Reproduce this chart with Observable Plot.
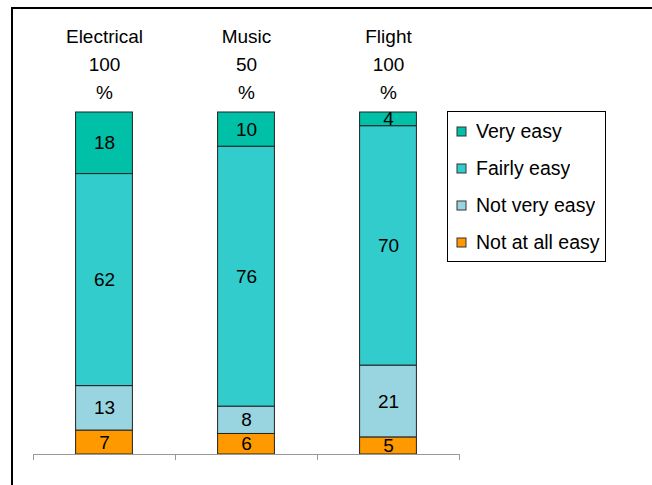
<!DOCTYPE html>
<html>
<head>
<meta charset="utf-8">
<script src="https://cdn.jsdelivr.net/npm/d3@7"></script>
<script src="https://cdn.jsdelivr.net/npm/@observablehq/plot@0.6"></script>
<style>
  body { margin: 0; background: #fff; }
  #wrap { position: relative; width: 652px; height: 485px; overflow: hidden; font-family: "Liberation Sans", Arial, sans-serif; }
  #frame { position: absolute; left: 11px; top: 7px; width: 800px; height: 800px; border-left: 2px solid #000; border-top: 2px solid #000; box-sizing: border-box; pointer-events: none; }
  #chart { position: absolute; left: 0; top: 0; }
  #legend { position: absolute; left: 447px; top: 111px; width: 159px; height: 151px; border: 1px solid #000; box-sizing: border-box; background: #fff; padding: 1px 0 0 9px; }
  #legend .lg-swatches-columns { columns: 1 !important; margin: 0 !important; }
  #legend .lg-swatch { height: 37px; display: flex; align-items: center; padding: 0 !important; margin: 0 !important; white-space: nowrap; }
  #legend .lg-swatch svg { margin-right: 10px !important; overflow: visible; }
  #legend .lg-swatch svg rect { stroke: #333; stroke-width: 1; }
</style>
</head>
<body>
<div id="wrap">
  <div id="chart"></div>
  <div id="frame"></div>
  <div id="legend"></div>
</div>
<script>
// Categories (courses) and respondent counts shown above each bar
const categories = ["Electrical", "Music", "Flight"];
const counts = [100, 50, 100];

// Series, bottom of stack first
const series = ["Not at all easy", "Not very easy", "Fairly easy", "Very easy"];
const colors = ["#ff9900", "#99d5e0", "#33cccc", "#00c0a8"];

// Values (%) per category, in series order
const notAtAllEasy = [7, 6, 5];
const notVeryEasy = [13, 8, 21];
const fairlyEasy = [62, 76, 70];
const veryEasy = [18, 10, 4];

const seriesValues = [notAtAllEasy, notVeryEasy, fairlyEasy, veryEasy];

// Build stacked table
const rows = [];
categories.forEach((cat, i) => {
  let base = 0;
  series.forEach((s, k) => {
    const v = seriesValues[k][i];
    rows.push({cat, i, series: s, value: v, y1: base, y2: base + v});
    base += v;
  });
});

const headers = categories.map((c, i) => ({i, label: `${c}\n${counts[i]}\n%`}));
const bounds = d3.range(categories.length + 1).map(d => d - 0.5);

const chart = Plot.plot({
  width: 652,
  height: 485,
  margin: 0,
  style: {fontFamily: "'Liberation Sans', Arial, sans-serif", background: "transparent"},
  x: {type: "linear", domain: [-0.5, categories.length - 0.5], range: [33, 459], axis: null},
  y: {domain: [0, 100], range: [454, 112], axis: null},
  color: {type: "ordinal", domain: series, range: colors},
  marks: [
    Plot.rect(rows, {
      x1: d => d.i - 0.2, x2: d => d.i + 0.2,
      y1: "y1", y2: "y2",
      fill: "series", stroke: "#222", strokeWidth: 1
    }),
    Plot.text(rows, {
      x: "i", y: d => (d.y1 + d.y2) / 2,
      text: d => String(d.value),
      fontSize: 19, fill: "#000"
    }),
    Plot.ruleY([0], {x1: -0.5, x2: categories.length - 0.5, stroke: "#999", strokeWidth: 1}),
    Plot.ruleX(bounds, {x: d => d, y1: 0, y2: -1.8, stroke: "#999", strokeWidth: 1}),
    Plot.text(headers, {
      x: "i", y: 100, text: "label",
      lineAnchor: "bottom", lineHeight: 1.45, dy: -14,
      fontSize: 19, fill: "#000"
    })
  ]
});
document.getElementById("chart").appendChild(chart);

const legend = Plot.legend({
  color: {type: "ordinal", domain: series.slice().reverse(), range: colors.slice().reverse()},
  legend: "swatches",
  columns: 1,
  swatchSize: 9,
  className: "lg",
  style: {fontSize: "19.5px", fontFamily: "'Liberation Sans', Arial, sans-serif", color: "#000"}
});
document.getElementById("legend").appendChild(legend);
</script>
</body>
</html>
